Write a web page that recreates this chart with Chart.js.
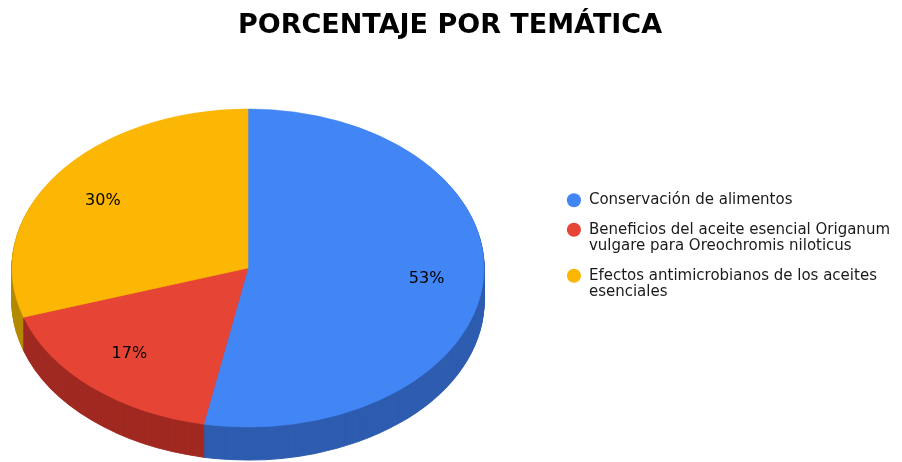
<!DOCTYPE html>
<html>
<head>
<meta charset="utf-8">
<script src="https://cdn.jsdelivr.net/npm/chart.js@4/dist/chart.umd.min.js"></script>
<style>
  html, body { margin: 0; padding: 0; background: #ffffff; }
  #wrap { width: 902px; height: 462px; }
</style>
</head>
<body>
<div id="wrap"><canvas id="canvasTematica" width="902" height="462"></canvas></div>
<script>

// datos del grafico
var tematicas = [
	["Conservación de alimentos"],
	["Beneficios del aceite esencial Origanum", "vulgare para Oreochromis niloticus"],
	["Efectos antimicrobianos de los aceites", "esenciales"]
];
var porcentajes = [53, 17, 30];

var coloresCara = ["#4285F4", "#E64434", "#FBB703"];
var coloresLado = ["#2E5DB0", "#A02A22", "#B58A00"];

var FUENTE = "'Comic Sans MS', 'DejaVu Sans', sans-serif";

// tamano del pastel en perspectiva
var PIE_RX = 236;
var PIE_RY = 159;
var PIE_DEPTH = 33;
var PIE_LEFT = 12;
var PIE_CY = 268;

function dibujarArco(ctx, arc, opts){
	var saved = arc.options;
	arc.options = Object.assign({}, saved, opts);
	arc.draw(ctx);
	arc.options = saved;
}

var pastel3d = {
	id: 'pastel3d',
	beforeDatasetsDraw: function(chart){
		var ctx = chart.ctx;
		var meta = chart.getDatasetMeta(0);
		var cx = PIE_LEFT + PIE_RX;
		var cy = PIE_CY;

		for (var d = PIE_DEPTH; d >= 0; d--){
			meta.data.forEach(function(arc, i){
				var r = arc.outerRadius;
				ctx.save();
				ctx.translate(cx, cy + d);
				ctx.scale(PIE_RX / r, PIE_RY / r);
				ctx.translate(-arc.x, -arc.y);
				if (d > 0){
					dibujarArco(ctx, arc, { backgroundColor: coloresLado[i], borderColor: coloresLado[i], borderWidth: 1 });
				} else {
					dibujarArco(ctx, arc, { backgroundColor: coloresCara[i], borderColor: coloresCara[i], borderWidth: 0.5 });
				}
				ctx.restore();
			});
		}

		// etiquetas de porcentaje
		var total = porcentajes.reduce(function(a, b){ return a + b; }, 0);
		ctx.save();
		ctx.fillStyle = "#000000";
		ctx.font = "16px " + FUENTE;
		ctx.textAlign = "center";
		ctx.textBaseline = "middle";
		meta.data.forEach(function(arc, i){
			var mid = (arc.startAngle + arc.endAngle) / 2;
			var x = cx + Math.cos(mid) * PIE_RX * 0.76;
			var y = cy + Math.sin(mid) * PIE_RY * 0.72;
			ctx.fillText(Math.round(porcentajes[i] / total * 100) + "%", x, y);
		});
		ctx.restore();

		return false;
	}
};

function init_chart_tematica(){

	if( typeof (Chart) === 'undefined'){ return; }

	var chart_pie_settings = {
		type: 'pie',
		data: {
			labels: tematicas,
			datasets: [{
				data: porcentajes,
				backgroundColor: coloresCara,
				borderWidth: 0
			}]
		},
		options: {
			responsive: false,
			animation: false,
			layout: {
				padding: { left: 0, right: 2, top: 0, bottom: 0 }
			},
			plugins: {
				title: {
					display: true,
					text: "PORCENTAJE POR TEMÁTICA",
					color: "#000000",
					font: { family: FUENTE, size: 27, weight: 'bold' },
					padding: { top: 10, bottom: 75 }
				},
				legend: {
					position: 'right',
					align: 'center',
					title: {
						display: true,
						text: ' ',
						font: { size: 10 },
						padding: { top: 10, bottom: 10 }
					},
					labels: {
						color: "#1a1a1a",
						font: { family: FUENTE, size: 15, lineHeight: 1.1 },
						usePointStyle: true,
						pointStyle: 'circle',
						boxHeight: 10,
						padding: 13
					}
				},
				tooltip: { enabled: false }
			}
		},
		plugins: [pastel3d]
	};

	var chart_pie = new Chart(document.getElementById('canvasTematica'), chart_pie_settings);
}

init_chart_tematica();
</script>
</body>
</html>
